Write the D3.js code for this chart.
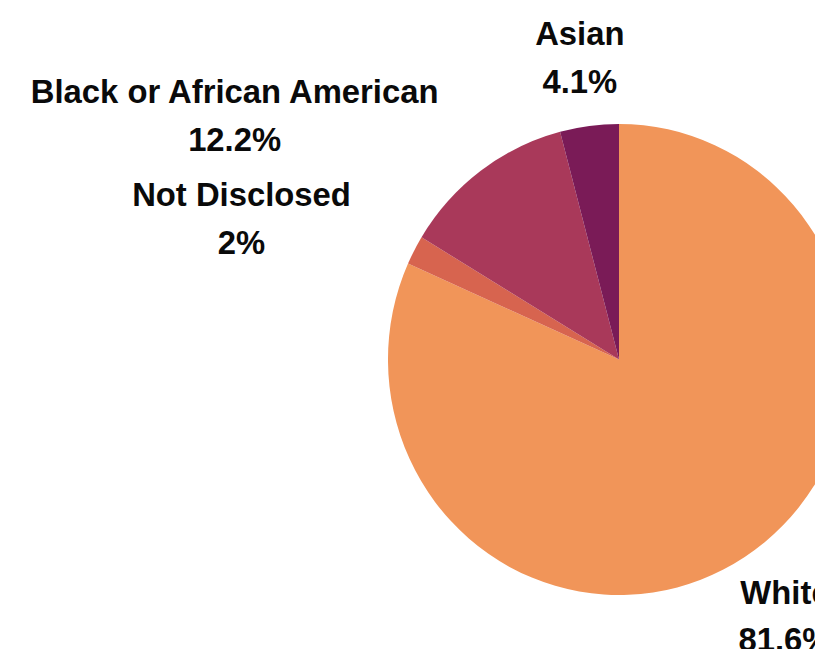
<!DOCTYPE html>
<html>
<head>
<meta charset="utf-8">
<script src="https://cdn.jsdelivr.net/npm/d3@7"></script>
<style>
  body { margin: 0; background: #fff; }
  svg { display: block; }
</style>
</head>
<body>
<div id="chart"></div>
<script>
// pie data, clockwise from 12 o'clock
var categories = ["White", "Not Disclosed", "Black or African American", "Asian"];
var values = [81.6, 2, 12.2, 4.1];
var colors = ["#F19559", "#D7644F", "#A9395A", "#7A1B57"];

(() => {
    var width = 815;
    var height = 649;
    var cx = 619, cy = 359.5;
    var radius = 235.5;
    var labelRadius = 305;

    var svg = d3.select("#chart")
        .append("svg")
        .attr("width", width)
        .attr("height", height);

    var data = categories.map(function (c, i) {
        return { name: c, value: values[i], color: colors[i] };
    });

    var pie = d3.pie()
        .sort(null)
        .value(function (d) { return d.value; });

    var arcs = pie(data);

    var arc = d3.arc()
        .innerRadius(0)
        .outerRadius(radius);

    // the source pie is slightly squashed horizontally
    var g = svg.append("g")
        .attr("transform", "translate(" + cx + "," + cy + ") scale(0.981,1)");

    g.selectAll("path")
        .data(arcs)
        .join("path")
        .attr("d", arc)
        .attr("fill", function (d) { return d.data.color; });

    // labels
    var lineGap = 47.5;
    var labels = svg.append("g")
        .attr("font-family", "'Liberation Sans', Arial, sans-serif")
        .attr("font-weight", "bold")
        .attr("font-size", "32.8px")
        .attr("fill", "#0a0a0a");

    arcs.forEach(function (d) {
        var a = (d.startAngle + d.endAngle) / 2;
        var px = cx + labelRadius * Math.sin(a);
        var py = cy - labelRadius * Math.cos(a);
        var pct = d.data.value + "%";

        var t = labels.append("text")
            .attr("text-anchor", "middle")
            .attr("y", py - lineGap / 2 + 12);
        t.append("tspan").attr("x", px).text(d.data.name);
        t.append("tspan").attr("x", px).attr("dy", lineGap).text(pct);

        // left-side labels sit with their right edge on the anchor point
        if (Math.sin(a) < -0.5) {
            var w = t.node().getBBox().width;
            t.selectAll("tspan").attr("x", px + 2 - w / 2);
        }
    });
})();
</script>
</body>
</html>
